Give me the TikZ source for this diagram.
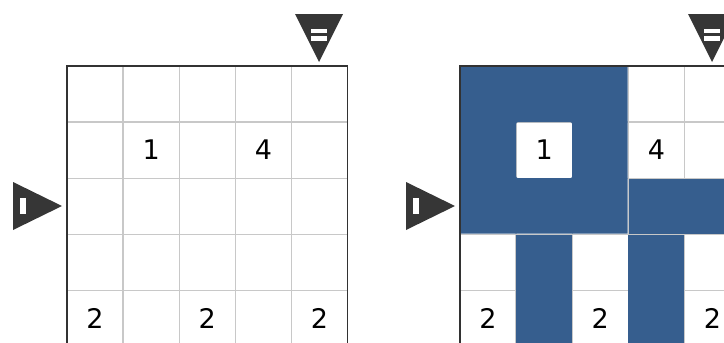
\documentclass[tikz,border=0pt]{standalone}
\usepackage{fontspec}
\setmainfont{DejaVu Sans}
\begin{document}
\begin{tikzpicture}[x=1pt,y=-1pt]
\definecolor{bluefill}{RGB}{54,94,142}
\definecolor{gridgray}{RGB}{200,200,200}
\definecolor{bordergray}{RGB}{50,50,50}
\definecolor{markergray}{RGB}{54,54,54}
\tikzset{
 gridline/.style={draw=gridgray, line width=1.4pt},
 border/.style={draw=bordergray, line width=1.8pt},
 clue/.style={font=\fontsize{27}{27}\selectfont, text=black, inner sep=0pt, anchor=center},
 marker/.style={fill=markergray, draw=none},
 markbar/.style={fill=white, draw=none},
 shade/.style={fill=bluefill, draw=none},
}
\useasboundingbox (0,0) rectangle (724,343);
\clip (0,0) rectangle (724,343);
% grids
\foreach \gx in {67,460} {
  \foreach \i in {0,...,5} \draw[gridline] (\gx+\i*56.1, 66) -- (\gx+\i*56.1, 346.5);
  \foreach \j in {0,...,5} \draw[gridline] (\gx, 66+\j*56.1) -- (\gx+280.5, 66+\j*56.1);
}
% shaded regions (right grid)
\fill[shade, even odd rule] (460,66) rectangle (627.6,233.6)
  [rounded corners=2pt] (516.1,122.1) rectangle (572.2,178.2);
\fill[shade] (629.0,178.9) rectangle (742,233.6);
\fill[shade] (516.1,235.0) rectangle (572.2,348);
\fill[shade] (628.3,235.0) rectangle (684.4,348);
% borders
\foreach \gx in {67,460} \draw[border] (\gx,66) rectangle (\gx+280.5,346.5);
% markers
\foreach \gx in {67,460} {
  \fill[marker] (\gx+228,14) -- (\gx+276,14) -- (\gx+252,62) -- cycle;
  \fill[markbar] (\gx+244,28.5) rectangle (\gx+260,33);
  \fill[markbar] (\gx+244,36) rectangle (\gx+260,40.5);
  \fill[marker] (\gx-54,182) -- (\gx-54,230) -- (\gx-5,206) -- cycle;
  \fill[markbar] (\gx-47,197.5) rectangle (\gx-41,214);
}
% clues
\foreach \gx/\nm in {67/L,460/R} {
  \node[clue] (\nm a) at (\gx+1.5*56.1, 66+1.5*56.1) {1};
  \node[clue] (\nm b) at (\gx+3.5*56.1, 66+1.5*56.1) {4};
  \node[clue] (\nm c) at (\gx+0.5*56.1, 66+4.5*56.1) {2};
  \node[clue] (\nm d) at (\gx+2.5*56.1, 66+4.5*56.1) {2};
  \node[clue] (\nm e) at (\gx+4.5*56.1, 66+4.5*56.1) {2};
}
\end{tikzpicture}
\end{document}
